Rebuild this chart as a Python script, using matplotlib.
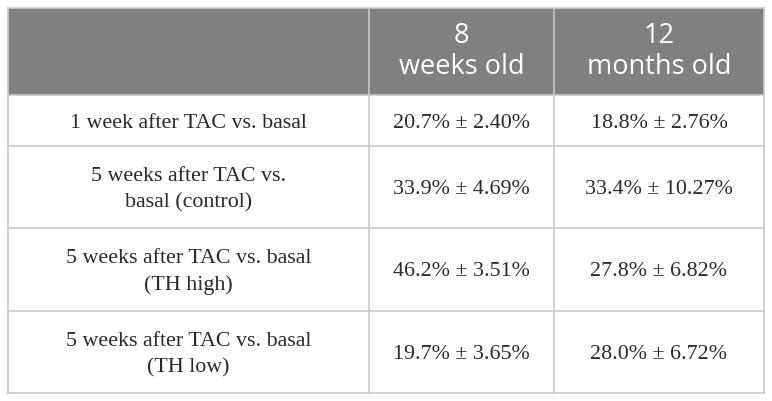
import matplotlib.pyplot as plt
from matplotlib.patches import Rectangle

# table content
col_headers = ["", "8\nweeks old", "12\nmonths old"]
row_labels = [
    "1 week after TAC vs. basal",
    "5 weeks after TAC vs.\nbasal (control)",
    "5 weeks after TAC vs. basal\n(TH high)",
    "5 weeks after TAC vs. basal\n(TH low)",
]
weeks8 = ["20.7% ± 2.40%", "33.9% ± 4.69%", "46.2% ± 3.51%", "19.7% ± 3.65%"]
months12 = ["18.8% ± 2.76%", "33.4% ± 10.27%", "27.8% ± 6.82%", "28.0% ± 6.72%"]

# layout in pixels
W, H = 772, 401
col_x = [8, 369, 554, 764]
row_y = [8, 95, 146, 228, 311, 393]
header_bg = "#808080"
line_col = "#c9c9c9"

fig = plt.figure(figsize=(W / 100, H / 100), dpi=100)
ax = fig.add_axes([0, 0, 1, 1])
ax.set_xlim(0, W)
ax.set_ylim(H, 0)
ax.axis("off")

# header band
ax.add_patch(Rectangle((col_x[0], row_y[0]), col_x[-1] - col_x[0], row_y[1] - row_y[0],
                       facecolor=header_bg, edgecolor="none"))

# grid lines
for y in row_y:
    ax.plot([col_x[0], col_x[-1]], [y, y], color=line_col, lw=1.2)
for x in col_x:
    ax.plot([x, x], [row_y[0], row_y[-1]], color=line_col, lw=1.2)

# header text
for j, h in enumerate(col_headers):
    if h:
        cx = (col_x[j] + col_x[j + 1]) / 2
        cy = (row_y[0] + row_y[1]) / 2
        ax.text(cx, cy, h, ha="center", va="center", color="white",
                family="Open Sans", fontsize=19.5, linespacing=1.12)

# body text
columns = [row_labels, weeks8, months12]
for j, col in enumerate(columns):
    cx = (col_x[j] + col_x[j + 1]) / 2
    for i, txt in enumerate(col):
        cy = (row_y[i + 1] + row_y[i + 2]) / 2
        ax.text(cx, cy + 2.5, txt, ha="center", va="center", color="#2a2a2a",
                family="Liberation Serif", fontsize=15.8, linespacing=1.52)

fig.savefig("out.png", dpi=100)
